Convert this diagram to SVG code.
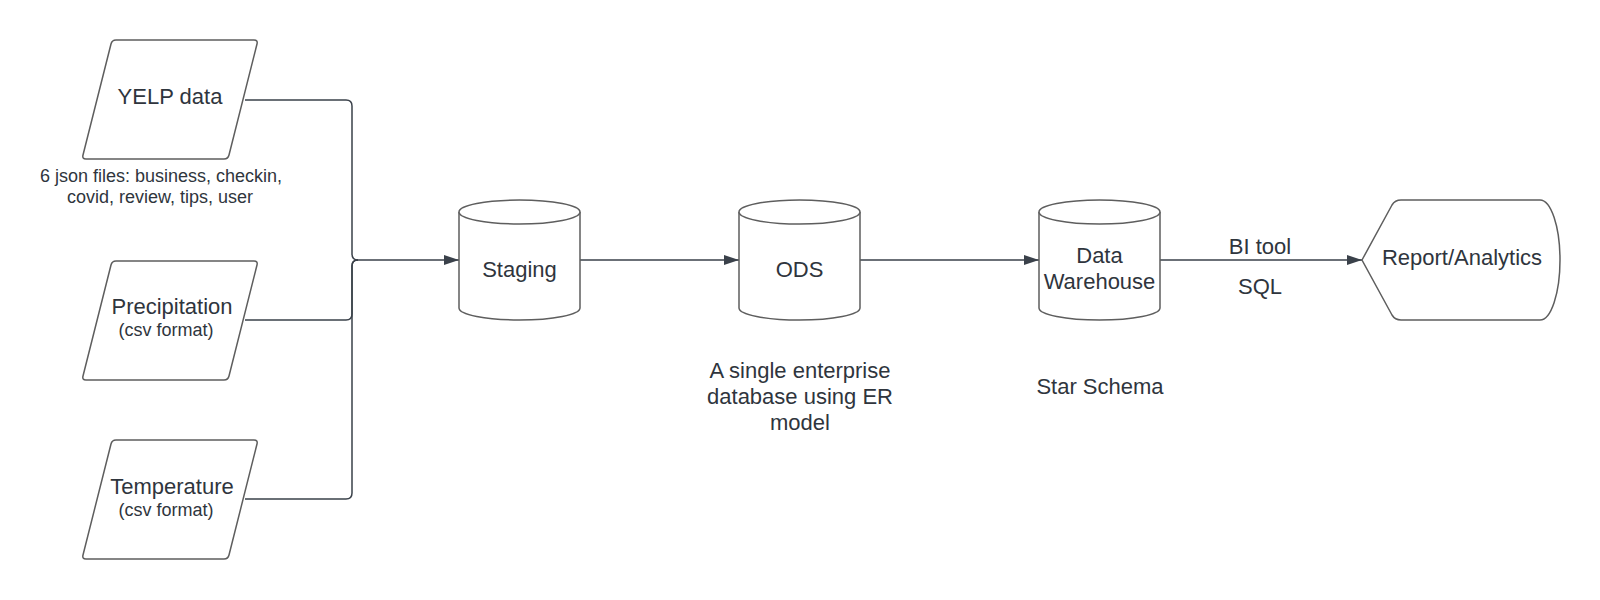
<svg xmlns="http://www.w3.org/2000/svg" width="1600" height="600" viewBox="0 0 1600 600">
<style>
.shape{fill:#ffffff;stroke:#5e5e5e;stroke-width:1.5}
.conn{fill:none;stroke:#3a414a;stroke-width:1.5}
text{font-family:"Liberation Sans",Arial,sans-serif;fill:#2f353d;text-anchor:middle}
.lg{font-size:22px}
.sm{font-size:18px}
</style>
<defs>
<marker id="arr" markerWidth="16" markerHeight="12" refX="15" refY="6" orient="auto" markerUnits="userSpaceOnUse">
<path d="M0,1 L15,6 L0,11 Z" fill="#3a414a"/>
</marker>
<path id="para" d="M116 0 H254 Q258 0 257 4 L229 115 Q228 119 224 119 H86 Q82 119 83 115 L111 4 Q112 0 116 0 Z"/>
</defs>
<rect width="1600" height="600" fill="#ffffff"/>
<g id="connectors">
<path class="conn" d="M245 100 H346 Q352 100 352 106 V254 Q352 260 358 260"/>
<path class="conn" d="M245 320 H346 Q352 320 352 314 V266 Q352 260 358 260"/>
<path class="conn" d="M245 499 H346 Q352 499 352 493 V266 Q352 260 358 260"/>
<path class="conn" d="M358 260 H459" marker-end="url(#arr)"/>
<path class="conn" d="M580 260 H739" marker-end="url(#arr)"/>
<path class="conn" d="M860 260 H1039" marker-end="url(#arr)"/>
<path class="conn" d="M1160 260 H1362" marker-end="url(#arr)"/>
<text class="lg" x="1260" y="254">BI tool</text>
<text class="lg" x="1260" y="294">SQL</text>
</g>
<g id="yelp">
<use href="#para" class="shape" transform="translate(0,40)"/>
<text class="lg" x="170" y="104">YELP data</text>
<text class="sm" x="161" y="182">6 json files: business, checkin,</text>
<text class="sm" x="160" y="203">covid, review, tips, user</text>
</g>
<g id="precipitation">
<use href="#para" class="shape" transform="translate(0,261)"/>
<text class="lg" x="172" y="314">Precipitation</text>
<text class="sm" x="166" y="336">(csv format)</text>
</g>
<g id="temperature">
<use href="#para" class="shape" transform="translate(0,440)"/>
<text class="lg" x="172" y="494">Temperature</text>
<text class="sm" x="166" y="516">(csv format)</text>
</g>
<g id="staging">
<path class="shape" d="M459 212 V308 A60.5 12 0 0 0 580 308 V212 A60.5 12 0 0 0 459 212 Z"/>
<path class="shape" d="M459 212 A60.5 12 0 0 0 580 212" fill="none"/>
<text class="lg" x="519.5" y="277">Staging</text>
</g>
<g id="ods">
<path class="shape" d="M739 212 V308 A60.5 12 0 0 0 860 308 V212 A60.5 12 0 0 0 739 212 Z"/>
<path class="shape" d="M739 212 A60.5 12 0 0 0 860 212" fill="none"/>
<text class="lg" x="799.5" y="277">ODS</text>
<text class="lg" x="800" y="378">A single enterprise</text>
<text class="lg" x="800" y="404">database using ER</text>
<text class="lg" x="800" y="430">model</text>
</g>
<g id="data-warehouse">
<path class="shape" d="M1039 212 V308 A60.5 12 0 0 0 1160 308 V212 A60.5 12 0 0 0 1039 212 Z"/>
<path class="shape" d="M1039 212 A60.5 12 0 0 0 1160 212" fill="none"/>
<text class="lg" x="1099.5" y="263">Data</text>
<text class="lg" x="1099.5" y="289">Warehouse</text>
<text class="lg" x="1100" y="394">Star Schema</text>
</g>
<g id="report">
<path class="shape" d="M1362 260 L1392 205 Q1395 200 1401 200 H1540 A20 60 0 0 1 1540 320 H1401 Q1395 320 1392 315 Z"/>
<text class="lg" x="1462" y="265">Report/Analytics</text>
</g>
</svg>
